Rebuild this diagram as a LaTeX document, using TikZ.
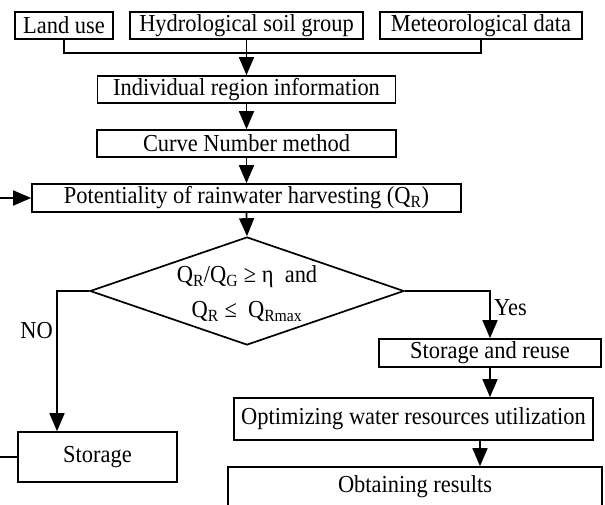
\documentclass[tikz,border=0pt]{standalone}
\usepackage{fontspec}
\setmainfont{Liberation Serif}[FakeStretch=0.92]
\usepackage{tikz}
\usetikzlibrary{arrows.meta, shapes.geometric, positioning}

\tikzset{
  box/.style={draw, line width=1.7pt, inner sep=0pt, minimum height=27pt},
  decision/.style={diamond, draw, line width=1.7pt, inner sep=0pt, minimum width=314pt, minimum height=108pt},
  flow/.style={line width=1.7pt, -{Triangle[length=18pt, width=15pt]}},
  link/.style={line width=1.7pt}
}

\begin{document}
\begin{tikzpicture}[x=1pt, y=-1pt, font=\fontsize{24.4}{28}\selectfont]
  \useasboundingbox (0,0) rectangle (605,504);
  \clip (0,0) rectangle (605,504);

  % input data
  \node[box, minimum width=98pt] (land) at (64,25.5) {Land use};
  \node[box, minimum width=233pt] (soil) at (246.5,25.5) {Hydrological soil group};
  \node[box, minimum width=202pt] (met) at (481,25.5) {Meteorological data};

  \node[box, minimum width=298pt] (info) at (246.5,89.5) {Individual region information};
  \node[box, minimum width=299pt] (cn) at (246.5,143.5) {Curve Number method};
  \node[box, minimum width=429pt, minimum height=28pt] (pot) at (246.5,198) {Potentiality of rainwater harvesting (Q\textsubscript{R})};

  % decision
  \node[decision] (dec) at (247,291) {};
  \node[align=center, font=\fontsize{24.4}{35}\selectfont] (cond) at (247,294)
    {Q\textsubscript{R}/Q\textsubscript{G} ≥ η\ \ and\\ Q\textsubscript{R} ≤\ \ Q\textsubscript{Rmax}};

  % results
  \node[box, minimum width=222pt, minimum height=28pt] (reuse) at (490,353) {Storage and reuse};
  \node[box, minimum width=359pt, minimum height=42pt] (opt) at (413.5,419) {Optimizing water resources utilization};
  \node[box, minimum width=374pt, minimum height=40pt] (res) at (415,487) {Obtaining results};
  \node[box, minimum width=159pt, minimum height=50pt] (store) at (97.5,457) {Storage};

  \coordinate (join) at (246.5,53);
  \coordinate (nobend) at (57,291);

  \draw[link] (land.south) |- (join) -| (met.south);
  \draw[flow] (soil.south) -- (info.north);
  \draw[flow] (info.south) -- (cn.north);
  \draw[flow] (cn.south) -- (pot.north);
  \draw[flow] (pot.south) -- (dec.north);
  \draw[flow] (dec.east) -| node[pos=0.68, right] {Yes} (reuse.north);
  \draw[flow] (reuse.south) -- (reuse.south |- opt.north);
  \draw[flow] ([xshift=66.5pt]opt.south) -- ([xshift=66.5pt]opt.south |- res.north);
  \draw[flow] (dec.west) -- (nobend) -- node[pos=0.28, left] {NO} (nobend |- store.north);
  \draw[flow] (store.west) -- ++(-25,0) |- (pot.west);
\end{tikzpicture}
\end{document}
